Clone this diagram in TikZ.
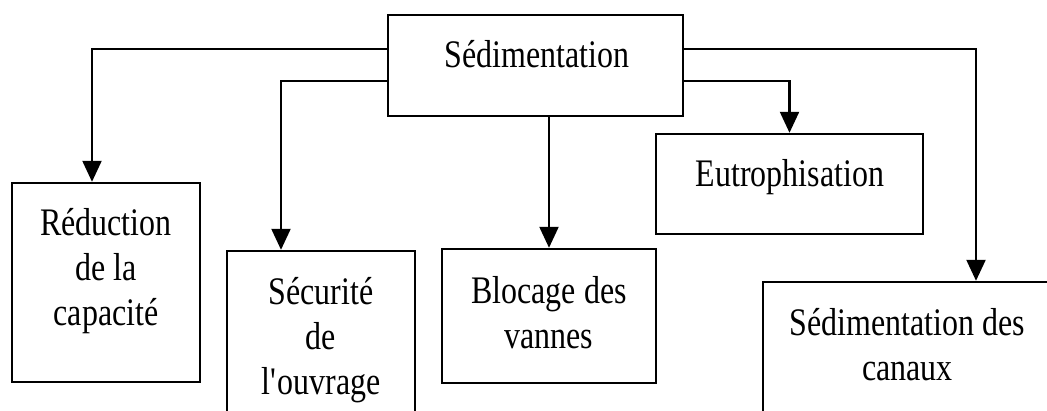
\documentclass[tikz,border=0pt]{standalone}
\usepackage{fontspec}
\setmainfont{Liberation Serif}[FakeStretch=0.82]
\usetikzlibrary{arrows.meta,fit}
\begin{document}
\begin{tikzpicture}[x=0.5pt,y=-0.5pt,
  box/.style={draw=black, line width=1.2pt, rectangle, inner sep=0pt, fill=white},
  lbl/.style={anchor=base, align=center, inner sep=0pt, font=\fontsize{19.5}{22.5}\selectfont},
  conn/.style={draw=black, line width=1.1pt, -{Triangle[width=9.5pt,length=10.5pt]}}]
\useasboundingbox (0,0) rectangle (1047,411);
\clip (0,0) rectangle (1047,411);
\node[box, fit={(388,15) (683,116)}] (sed) {};
\node[box, fit={(12,183) (200,382)}] (red) {};
\node[box, fit={(227,251) (415,450)}] (sec) {};
\node[box, fit={(442,249) (656,383)}] (blo) {};
\node[box, fit={(656,134) (923,234)}] (eut) {};
\node[box, fit={(763,282) (1052,450)}] (can) {};
% base anchor of a multi-line label is the baseline of its last line
\node[lbl] (tsed) at (537,68) {Sédimentation};
\node[lbl] (tred) at (106,325) {Réduction\\de la\\capacité};
\node[lbl] (tsec) at (321,394) {Sécurité\\de\\l\textquotesingle ouvrage};
\node[lbl] (tblo) at (549,348) {Blocage des\\vannes};
\node[lbl] (teut) at (790,186) {Eutrophisation};
\node[lbl] (tcan) at (907.5,380) {Sédimentation des\\canaux};
\draw[conn] (sed.west |- 0,49) -| (92,0 |- red.north);
\draw[conn] (sed.west |- 0,81) -| (281,0 |- sec.north);
\draw[conn] (blo.north |- sed.south) -- (blo.north);
\draw[conn] (sed.east |- 0,81) -| (eut.north);
\draw[conn] (sed.east |- 0,49) -| (976,0 |- can.north);
\end{tikzpicture}
\end{document}
